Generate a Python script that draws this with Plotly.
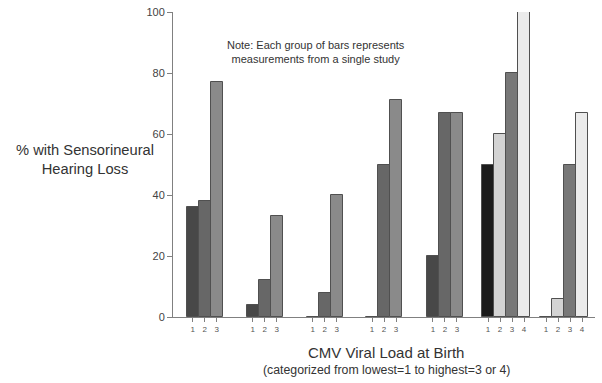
import plotly.graph_objects as go

# Data: % with sensorineural hearing loss by CMV viral load category, per study
study_values = [
    [36, 38, 77],
    [4, 12, 33],
    [0, 8, 40],
    [0, 50, 71],
    [20, 67, 67],
    [50, 60, 80, 100],
    [0, 6, 50, 67],
]
y_ticks = [0, 20, 40, 60, 80, 100]

# Layout: starting offset of each group along x (in bar-width units)
group_starts = [0, 5, 10, 14.95, 20.02, 24.62, 29.45]
colors_3 = ["#484848", "#676767", "#8a8a8a"]
colors_4 = ["#1c1c1c", "#d3d3d3", "#787878", "#ebebeb"]

xs, ys, cols, tickvals, ticktext = [], [], [], [], []
for start, vals in zip(group_starts, study_values):
    palette = colors_3 if len(vals) == 3 else colors_4
    for i, v in enumerate(vals):
        xc = start + i + 0.5
        xs.append(xc)
        ys.append(v)
        cols.append(palette[i])
        tickvals.append(xc)
        ticktext.append(str(i + 1))

fig = go.Figure()
fig.add_trace(go.Bar(
    x=xs, y=ys, width=0.98,
    marker=dict(color=cols, line=dict(color="#505050", width=1)),
    showlegend=False, hoverinfo="skip",
))

font_family = "Liberation Sans, Arial, sans-serif"
fig.update_layout(
    width=602, height=383,
    margin=dict(l=173, r=7, t=12, b=66),
    paper_bgcolor="white", plot_bgcolor="white",
    font=dict(family=font_family, color="#333333"),
    bargap=0,
    xaxis=dict(
        range=[-1.14, 34.03], showgrid=False, zeroline=False,
        showline=True, linecolor="#808080", linewidth=1,
        tickmode="array", tickvals=tickvals, ticktext=ticktext,
        ticks="outside", ticklen=4, tickcolor="#808080",
        tickfont=dict(size=8, color="#555555"),
    ),
    yaxis=dict(
        range=[0, 100], showgrid=False, zeroline=False,
        showline=True, linecolor="#808080", linewidth=1,
        tickmode="array", tickvals=y_ticks,
        ticks="outside", ticklen=5, tickcolor="#808080",
        tickfont=dict(size=11, color="#444444"),
        ticklabeloverflow="allow",
    ),
    annotations=[
        dict(text="% with Sensorineural<br>Hearing Loss", xref="paper", yref="paper",
             x=-0.209, y=0.515, xanchor="center", yanchor="middle", showarrow=False,
             font=dict(size=14.7, color="#333333")),
        dict(text="Note: Each group of bars represents<br>measurements from a single study",
             xref="paper", yref="paper", x=0.339, y=0.868, xanchor="center",
             yanchor="middle", showarrow=False, font=dict(size=11, color="#333333")),
        dict(text="CMV Viral Load at Birth", xref="paper", yref="paper",
             x=0.505, y=-0.115, xanchor="center", yanchor="middle", showarrow=False,
             font=dict(size=15, color="#333333")),
        dict(text="(categorized from lowest=1 to highest=3 or 4)", xref="paper", yref="paper",
             x=0.505, y=-0.175, xanchor="center", yanchor="middle", showarrow=False,
             font=dict(size=12.3, color="#333333")),
    ],
)

fig.write_html("out.html", config={"displayModeBar": False},
               post_script="document.body.style.margin='0';")
